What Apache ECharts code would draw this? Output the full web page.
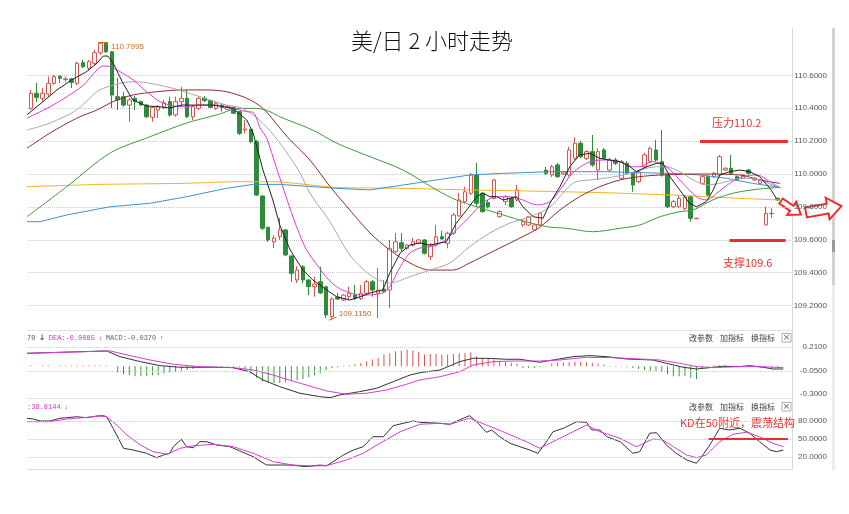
<!DOCTYPE html>
<html><head><meta charset="utf-8">
<script src="https://cdn.jsdelivr.net/npm/echarts@6/dist/echarts.min.js"></script>
<style>html,body{margin:0;padding:0;background:#fff}#c{width:849px;height:514px}</style>
</head><body><div id="c"></div>
<script>
const categories = Array.from({length:132},(_,i)=>String(i));
// [open, close, low, high]
const candles = [
[110.399,110.491,110.389,110.511],[110.491,110.466,110.438,110.553],[110.460,110.491,110.440,110.523],[110.486,110.551,110.470,110.592],
[110.551,110.592,110.541,110.602],[110.592,110.582,110.553,110.602],[110.574,110.578,110.561,110.592],[110.578,110.557,110.523,110.584],
[110.551,110.673,110.541,110.683],[110.677,110.652,110.643,110.693],[110.643,110.683,110.632,110.693],[110.673,110.737,110.663,110.754],
[110.737,110.795,110.723,110.797],[110.795,110.743,110.735,110.7995],[110.743,110.480,110.401,110.745],[110.470,110.450,110.389,110.584],
[110.470,110.419,110.409,110.500],[110.419,110.450,110.318,110.462],[110.460,110.440,110.389,110.474],[110.440,110.419,110.413,110.446],
[110.419,110.348,110.340,110.426],[110.345,110.405,110.318,110.413],[110.389,110.409,110.340,110.419],[110.405,110.433,110.395,110.450],
[110.440,110.359,110.348,110.470],[110.359,110.440,110.348,110.470],[110.440,110.460,110.409,110.531],[110.460,110.348,110.339,110.511],
[110.348,110.409,110.328,110.419],[110.399,110.460,110.389,110.470],[110.460,110.446,110.438,110.474],[110.446,110.405,110.401,110.450],
[110.399,110.430,110.389,110.440],[110.419,110.405,110.379,110.426],[110.393,110.413,110.389,110.419],[110.405,110.369,110.365,110.409],
[110.379,110.247,110.237,110.383],[110.267,110.274,110.247,110.328],[110.272,110.196,110.188,110.275],[110.196,109.872,109.866,110.207],
[109.866,109.670,109.660,109.870],[109.676,109.599,109.587,109.680],[109.588,109.611,109.550,109.629],[109.619,109.660,109.599,109.733],
[109.660,109.508,109.500,109.665],[109.502,109.396,109.345,109.505],[109.356,109.416,109.337,109.441],[109.436,109.356,109.337,109.447],
[109.356,109.315,109.264,109.360],[109.315,109.331,109.254,109.376],[109.345,109.277,109.270,109.436],[109.315,109.143,109.125,109.320],
[109.133,109.240,109.115,109.250],[109.252,109.240,109.234,109.277],[109.234,109.264,109.228,109.270],[109.254,109.275,109.234,109.315],
[109.264,109.244,109.234,109.325],[109.244,109.275,109.234,109.325],[109.275,109.345,109.264,109.356],[109.345,109.295,109.254,109.356],
[109.275,109.295,109.125,109.429],[109.301,109.285,109.277,109.356],[109.295,109.548,109.185,109.599],[109.528,109.588,109.520,109.641],
[109.582,109.548,109.528,109.641],[109.548,109.568,109.540,109.575],[109.568,109.588,109.558,109.611],[109.579,109.599,109.573,109.605],
[109.599,109.518,109.510,109.605],[109.497,109.568,109.477,109.581],[109.568,109.619,109.558,109.690],[109.619,109.605,109.599,109.655],
[109.579,109.640,109.548,109.649],[109.640,109.751,109.629,109.763],[109.745,109.842,109.740,109.884],[109.832,109.892,109.822,109.923],
[109.883,109.994,109.872,110.006],[109.994,109.822,109.801,110.067],[109.883,109.771,109.765,109.890],[109.826,109.801,109.791,109.842],
[109.852,109.964,109.845,109.970],[109.740,109.771,109.735,109.780],[109.832,109.862,109.812,109.872],[109.852,109.801,109.795,109.858],
[109.842,109.903,109.832,109.933],[109.690,109.710,109.680,109.726],[109.690,109.740,109.684,109.745],[109.660,109.690,109.655,109.695],
[109.690,109.763,109.684,109.768],[110.024,110.004,109.994,110.044],[109.994,110.044,109.982,110.055],[110.055,109.984,109.976,110.067],
[110.000,110.012,109.994,110.018],[109.994,110.146,109.984,110.166],[110.095,110.187,110.085,110.223],[110.187,110.105,110.097,110.201],
[110.095,110.136,110.085,110.146],[110.136,110.055,110.044,110.237],[110.024,110.136,109.964,110.156],[110.146,110.095,110.085,110.158],
[110.024,110.085,110.012,110.097],[110.085,110.065,110.055,110.097],[109.974,110.075,109.964,110.085],[110.065,110.004,109.994,110.079],
[110.004,109.933,109.892,110.012],[109.953,110.014,109.945,110.024],[110.044,110.116,110.036,110.128],[110.075,110.156,110.067,110.166],
[110.146,110.085,110.075,110.207],[110.075,109.994,109.984,110.267],[109.994,109.801,109.793,110.006],[109.801,109.832,109.793,109.842],
[109.801,109.852,109.793,109.866],[109.791,109.862,109.781,109.872],[109.862,109.731,109.710,109.872],[109.728,109.731,109.726,109.735],
[109.943,109.984,109.933,109.994],[109.984,109.872,109.866,109.994],[109.984,110.004,109.976,110.014],[109.994,110.105,109.984,110.116],
[110.024,110.035,110.018,110.040],[110.035,110.004,109.994,110.116],[109.984,109.964,109.958,109.990],[109.974,109.994,109.968,110.000],
[110.024,110.004,109.998,110.030],[109.964,109.974,109.958,109.980],[109.943,109.964,109.938,109.970],[109.690,109.761,109.688,109.801],
[109.759,109.761,109.733,109.793],[109.852,109.842,109.838,109.856]
];
const ma5 = [[-0.7,110.359],[2.1,110.440],[4.5,110.511],[7.0,110.571],[9.6,110.622],[11.4,110.673],[12.5,110.717],[13.3,110.717],[14.2,110.675],[15.9,110.553],[17.6,110.450],[20.0,110.413],[22.3,110.409],[24.0,110.401],[26.0,110.419],[28.6,110.419],[31.5,110.419],[34.9,110.399],[37.3,110.328],[38.4,110.249],[40.1,110.024],[41.8,109.842],[43.0,109.690],[44.8,109.538],[47.0,109.416],[48.7,109.356],[51.1,109.295],[52.8,109.254],[55.1,109.234],[56.8,109.252],[58.6,109.277],[60.8,109.295],[62.0,109.398],[63.8,109.520],[65.5,109.568],[67.2,109.581],[68.9,109.568],[70.7,109.581],[71.8,109.588],[73.5,109.702],[75.3,109.781],[77.0,109.862],[78.1,109.884],[79.3,109.862],[80.5,109.862],[81.6,109.842],[83.9,109.862],[85.0,109.801],[86.8,109.740],[88.5,109.731],[89.7,109.824],[91.4,109.923],[93.1,110.044],[94.8,110.116],[96.6,110.126],[98.3,110.095],[100.0,110.085],[101.8,110.075],[103.5,110.044],[104.6,110.014],[106.4,110.044],[108.1,110.065],[109.2,110.065],[110.4,109.984],[112.1,109.903],[113.8,109.822],[115.0,109.801],[116.7,109.832],[117.9,109.903],[119.0,109.994],[120.7,110.014],[122.5,110.024],[124.2,110.014],[125.9,109.984],[127.7,109.913],[128.8,109.852]];
const ma10 = [[-0.7,110.339],[3.3,110.409],[6.2,110.470],[9.1,110.541],[11.4,110.632],[12.5,110.657],[13.7,110.652],[15.4,110.622],[17.7,110.571],[20.0,110.500],[22.3,110.440],[24.6,110.413],[26.9,110.409],[29.2,110.419],[32.1,110.419],[34.9,110.399],[37.3,110.379],[38.4,110.375],[39.6,110.280],[40.7,110.220],[42.4,110.040],[44.2,109.850],[45.9,109.680],[47.6,109.540],[49.6,109.440],[51.1,109.370],[52.8,109.315],[55.1,109.277],[57.4,109.264],[60.8,109.277],[62.0,109.315],[63.8,109.436],[65.5,109.520],[67.2,109.550],[68.9,109.558],[71.2,109.588],[73.5,109.660],[75.8,109.740],[78.1,109.824],[80.5,109.862],[82.8,109.862],[85.0,109.842],[87.4,109.812],[89.7,109.832],[91.4,109.903],[93.6,110.006],[96.6,110.075],[99.5,110.085],[101.8,110.075],[104.0,110.044],[105.2,110.044],[107.4,110.075],[109.8,110.044],[112.1,109.964],[115.0,109.862],[116.7,109.842],[118.5,109.883],[120.7,109.943],[123.0,109.984],[125.4,109.994],[127.7,109.953],[129.4,109.915]];
const ma20 = [[-0.7,110.267],[3.3,110.310],[7.9,110.389],[11.4,110.500],[13.7,110.535],[17.6,110.561],[20.0,110.555],[24.5,110.521],[29.2,110.470],[33.8,110.419],[36.1,110.405],[38.4,110.359],[40.7,110.286],[43.5,110.166],[46.5,110.006],[48.2,109.884],[51.7,109.708],[55.1,109.508],[58.6,109.386],[62.0,109.337],[65.5,109.376],[68.9,109.416],[72.4,109.459],[75.8,109.558],[79.3,109.641],[82.8,109.702],[86.2,109.740],[89.7,109.800],[93.7,109.945],[96.6,109.964],[99.5,109.976],[102.3,109.994],[105.2,110.024],[108.1,110.044],[109.8,110.044],[112.1,110.014],[114.4,109.964],[116.7,109.933],[119.0,109.943],[121.3,109.964],[123.6,109.974],[125.9,109.964],[128.2,109.933],[129.7,109.915]];
const ma30 = [[-0.7,110.156],[3.3,110.249],[7.9,110.339],[11.4,110.389],[14.2,110.440],[17.6,110.480],[21.7,110.500],[26.3,110.511],[30.4,110.511],[33.8,110.500],[37.3,110.460],[40.1,110.399],[43.0,110.280],[44.8,110.207],[48.2,110.085],[51.7,109.923],[55.1,109.781],[58.6,109.641],[62.0,109.538],[65.5,109.459],[68.9,109.416],[72.9,109.416],[75.8,109.459],[79.3,109.520],[82.8,109.581],[86.2,109.641],[88.0,109.678],[91.4,109.781],[94.8,109.862],[98.3,109.923],[101.8,109.964],[105.2,109.984],[108.7,109.994],[115.6,110.000],[122.5,109.994],[125.9,109.964],[129.4,109.943]];
const ma60 = [[-0.7,109.740],[6.2,109.923],[13.7,110.128],[20.6,110.227],[26.9,110.310],[32.1,110.359],[36.1,110.399],[39.0,110.399],[41.3,110.379],[43.0,110.348],[48.7,110.267],[52.8,110.188],[58.6,110.105],[64.3,110.024],[70.1,109.903],[73.5,109.842],[77.0,109.801],[80.5,109.763],[84.5,109.720],[89.1,109.680],[92.5,109.670],[97.1,109.649],[101.8,109.670],[105.2,109.690],[108.7,109.740],[112.1,109.771],[114.4,109.781],[117.8,109.842],[121.3,109.883],[125.4,109.907],[129.4,109.919]];
const ma120 = [[-0.7,109.710],[1.6,109.710],[6.2,109.751],[13.7,109.801],[20.6,109.822],[26.9,109.862],[33.8,109.913],[38.4,109.937],[43.0,109.937],[52.8,109.913],[58.6,109.903],[64.3,109.933],[70.1,109.964],[75.8,109.994],[81.5,110.004],[89.7,110.014],[99.5,110.014],[105.2,110.008],[110.9,110.004],[115.6,109.994],[120.2,109.974],[124.7,109.943],[129.4,109.919]];
const ma250 = [[-0.7,109.923],[11.9,109.937],[26.3,109.943],[34.9,109.953],[43.0,109.953],[52.8,109.917],[64.3,109.913],[75.8,109.903],[89.7,109.894],[99.5,109.886],[110.9,109.872],[122.5,109.852],[129.4,109.842]];
const macdHist = [0.008,0,0.008,0.008,0,0.008,0.008,0.008,0.008,0.008,0.008,0.008,0.008,0.008,
0,
-0.07,-0.09,-0.10,-0.11,-0.11,-0.11,-0.10,-0.10,-0.08,-0.07,-0.06,-0.05,-0.04,-0.03,
-0.01,-0.008,-0.008,-0.008,-0.01,-0.008,-0.008,-0.01,
-0.03,-0.08,-0.13,-0.165,-0.18,-0.185,-0.185,-0.18,-0.165,-0.155,-0.14,-0.12,-0.10,-0.08,-0.045,
-0.02,-0.01,0.005,0.01,
0.02,0.035,0.055,0.075,0.09,0.13,0.14,0.165,0.175,0.185,0.175,
0.16,0.13,0.135,0.135,0.13,0.13,0.135,0.14,0.145,0.155,
0.11,0.09,0.08,0.075,0.06,0.05,0.04,0.03,
-0.02,-0.02,-0.02,-0.01,0.005,
0.03,0.04,0.04,0.045,0.05,0.05,0.045,0.04,0.03,0.02,
0.005,-0.005,-0.005,-0.01,
-0.02,-0.03,-0.04,-0.05,-0.055,-0.06,-0.09,-0.11,-0.11,-0.11,-0.13,-0.14,
-0.02,-0.02,0.01,0.01,0.01,0.005,0.005,0.005,0.01,0.005,-0.01,-0.02,-0.02,-0.02];
const dif = [[-0.7,0.143],[13.1,0.169],[15.4,0.106],[18.9,0.051],[22.3,0.007],[25.8,-0.011],[31.5,-0.011],[34.9,-0.015],[37.8,-0.060],[40.1,-0.151],[43.0,-0.225],[46.5,-0.298],[49.9,-0.335],[51.7,-0.346],[53.4,-0.316],[56.8,-0.280],[59.7,-0.243],[62.6,-0.170],[65.5,-0.096],[67.2,-0.071],[70.7,-0.041],[74.1,0.051],[76.4,0.088],[78.7,0.088],[82.2,0.077],[84.5,0.077],[87.9,0.044],[90.2,0.069],[93.7,0.106],[96.6,0.117],[99.5,0.106],[102.9,0.080],[107.5,0.069],[109.8,0.033],[112.7,-0.011],[115.0,-0.030],[117.3,-0.015],[119.6,0.000],[122.5,-0.004],[124.2,0.007],[126.5,-0.011],[128.2,-0.030],[130.0,-0.030]];
const dea = [[-0.7,0.143],[13.7,0.169],[16.6,0.125],[20.6,0.069],[24.6,0.022],[29.2,-0.004],[34.9,-0.015],[38.4,-0.041],[41.8,-0.096],[46.5,-0.187],[51.1,-0.272],[54.5,-0.309],[58.0,-0.298],[61.5,-0.261],[64.9,-0.198],[67.2,-0.151],[70.7,-0.115],[74.1,-0.060],[76.4,0.014],[79.9,0.051],[83.3,0.058],[87.9,0.058],[91.4,0.069],[96.0,0.099],[100.6,0.095],[105.2,0.080],[108.7,0.069],[112.1,0.033],[115.0,-0.004],[117.9,-0.015],[122.5,-0.004],[125.9,-0.004],[130.0,-0.015]];
const kLine = [[-0.7,84.2],[0.4,83.0],[1.6,79.7],[3.3,79.7],[5.0,84.2],[6.2,85.2],[7.9,86.8],[9.6,85.2],[11.4,88.0],[12.5,88.5],[13.1,86.8],[14.2,67.5],[16.0,34.2],[17.7,31.3],[20.0,25.8],[21.7,18.5],[22.9,23.0],[24.0,25.8],[24.6,36.8],[26.0,49.2],[26.9,36.8],[28.1,35.2],[29.2,45.2],[30.4,45.2],[32.1,39.7],[34.4,36.8],[36.1,29.7],[38.4,20.2],[40.7,6.3],[42.5,6.3],[44.8,6.3],[47.6,3.5],[49.9,6.3],[51.1,5.2],[52.2,11.8],[54.0,23.0],[55.7,31.3],[57.4,36.8],[59.1,53.5],[60.9,53.5],[62.6,71.8],[64.3,75.8],[66.1,79.7],[67.2,77.5],[70.7,75.8],[72.4,74.2],[74.7,84.2],[75.8,88.5],[77.3,75.8],[78.7,60.8],[79.6,64.7],[81.0,53.5],[82.8,42.5],[84.5,36.8],[86.2,31.3],[87.6,25.8],[89.1,45.2],[90.2,61.8],[92.0,67.5],[94.3,78.5],[96.0,77.5],[96.9,64.7],[98.3,64.7],[99.5,53.5],[101.8,45.2],[104.0,25.8],[105.2,28.5],[106.9,59.2],[108.1,60.2],[109.8,39.7],[111.5,25.8],[113.3,14.7],[115.0,9.2],[115.9,20.2],[117.3,39.7],[119.0,67.5],[120.7,64.7],[122.5,67.5],[124.2,59.2],[125.9,45.2],[127.7,31.3],[128.8,28.5],[130.0,31.3]];
const dLine = [[-0.7,78.5],[3.3,78.5],[6.2,83.0],[9.1,85.2],[11.9,88.0],[13.1,86.8],[14.8,73.0],[16.6,56.3],[18.9,39.7],[21.1,28.5],[23.5,24.2],[25.8,34.2],[28.1,38.5],[31.5,40.8],[35.0,36.8],[38.4,25.8],[41.9,11.8],[45.3,6.3],[48.8,4.7],[51.1,5.2],[54.5,14.7],[57.4,25.8],[60.3,42.5],[63.8,61.8],[67.2,74.2],[70.7,75.8],[72.4,74.2],[75.8,84.2],[78.7,73.0],[82.2,59.2],[85.6,45.2],[87.9,34.2],[90.2,45.2],[93.7,61.8],[96.0,73.0],[98.3,61.8],[101.8,50.8],[104.6,36.8],[107.5,49.7],[109.2,48.0],[111.0,36.8],[113.3,23.0],[115.0,18.5],[116.7,23.0],[119.0,45.2],[121.3,57.5],[123.6,60.8],[125.9,53.5],[128.2,42.5],[130.0,36.8]];
const macdLevels = [0.21, -0.05, -0.30];
const kdLevels = [80, 50, 20];
const resistance = 110.2, support = 109.6, kdMid = 50;
const highMark = {idx:13, value:110.7995}, lowMark = {idx:52, value:109.115};

const RED = '#e8302f', UP = '#d9534f', DOWN = '#2e8b3a';
const lblFont = 'Liberation Sans';
const lineSer = (data, color, xi, yi, extra) => Object.assign({
  type:'line', xAxisIndex:xi, yAxisIndex:yi, data, symbol:'none', silent:true,
  lineStyle:{width:1,color}, z:3, animation:false}, extra||{});
const labelWidth = s => s.split('').reduce((a,c)=>a+(c==='.'?2.22:(c==='-'?2.66:4.45)),0);

const chart = echarts.init(document.getElementById('c'));
const grids = [
  {left:28, right:57, top:42.4, height:296.1},
  {left:28, right:57, top:330, height:68},
  {left:28, right:57, top:398, height:72}
];
const hiddenVal = gi => ({type:'value', gridIndex:gi, min:-0.5, max:131.5, show:false});
const option = {
  animation:false,
  backgroundColor:'#fff',
  grid: grids,
  xAxis: [
    {type:'category', gridIndex:0, data:categories, show:false, boundaryGap:true},
    hiddenVal(0),
    {type:'category', gridIndex:1, data:categories, show:false, boundaryGap:true},
    hiddenVal(1),
    {type:'category', gridIndex:2, data:categories, boundaryGap:true,
      axisLine:{lineStyle:{color:'#dcdcdc'}}, axisTick:{interval:6, length:3, lineStyle:{color:'#cfcfcf'}},
      axisLabel:{show:false}},
    hiddenVal(2)
  ],
  yAxis: [
    {type:'value', gridIndex:0, position:'right', min:109.0, max:110.8, interval:0.2,
      axisLine:{show:false}, axisTick:{show:false},
      axisLabel:{formatter:v=>v.toFixed(4), align:'right', margin:35, fontSize:8, color:'#555', fontFamily:lblFont,
        showMinLabel:false, showMaxLabel:false},
      splitLine:{show:true, showMinLine:false, showMaxLine:false, lineStyle:{type:'dotted', color:'#c8c8c8'}}},
    {type:'value', gridIndex:1, min:-0.35, max:0.40, show:false},
    {type:'value', gridIndex:2, min:-2, max:118, show:false}
  ],
  series: [
    {type:'candlestick', xAxisIndex:0, yAxisIndex:0, data:candles, barWidth:4, z:2,
      itemStyle:{color:'#fff', color0:DOWN, borderColor:UP, borderColor0:DOWN, borderWidth:1},
      markPoint:{silent:true, animation:false, data:[
        {coord:[highMark.idx, highMark.value], symbol:'rect', symbolSize:[10,1], symbolOffset:[-3,0],
          itemStyle:{color:'#d2691e'},
          label:{show:true, position:'right', distance:3, offset:[0,4], formatter:highMark.value.toFixed(4),
            color:'#d2691e', fontSize:8, fontFamily:lblFont}},
        {coord:[lowMark.idx, lowMark.value], symbol:'rect', symbolSize:[8,1], symbolRotate:25, symbolOffset:[1,-1],
          itemStyle:{color:'#d2691e'},
          label:{show:true, position:'right', distance:2, offset:[0,-5], formatter:lowMark.value.toFixed(4),
            color:'#d2691e', fontSize:8, fontFamily:lblFont}}
      ]}},
    lineSer(ma250, '#f0b42c', 1, 0),
    lineSer(ma120, '#3f93c9', 1, 0),
    lineSer(ma60, '#3e9a3e', 1, 0, {smooth:0.3}),
    lineSer(ma30, '#8c2f2f', 1, 0, {smooth:0.3}),
    lineSer(ma20, '#a8a8a8', 1, 0, {smooth:0.3}),
    lineSer(ma10, '#dc3cdc', 1, 0, {smooth:0.3}),
    lineSer(ma5, '#222', 1, 0, {
      markLine:{silent:true, symbol:['none','none'], animation:false,
        lineStyle:{color:RED, width:3, type:'solid'}, label:{show:false},
        data:[
          [{coord:[115.6, resistance]},{coord:[130.8, resistance]}],
          [{coord:[120.7, support]},{coord:[130.4, support]}]
        ]}}),
    {type:'bar', xAxisIndex:2, yAxisIndex:1, barWidth:1, silent:true,
      data: macdHist.map(v=>({value:v, itemStyle:{color: v>=0 ? UP : '#3f9a3f'}}))},
    lineSer(dif, '#333', 3, 1, {
      markLine:{silent:true, symbol:['none','none'], animation:false,
        lineStyle:{type:'dotted', color:'#c8c8c8', width:1},
        label:{position:'end', color:'#555', fontSize:8, fontFamily:lblFont},
        data: macdLevels.map((v,i)=>({yAxis:v,
          lineStyle: i===2 ? {color:'rgba(255,255,255,0)'} : undefined,
          label:{show:true, color:'#555', formatter:v.toFixed(4), distance: 35 - labelWidth(v.toFixed(4))}}))}}),
    lineSer(dea, '#d63cd6', 3, 1),
    lineSer(kLine, '#333', 5, 2, {
      markLine:{silent:true, symbol:['none','none'], animation:false,
        lineStyle:{type:'dotted', color:'#c8c8c8', width:1},
        label:{position:'end', color:'#555', fontSize:8, fontFamily:lblFont},
        data: kdLevels.map(v=>({yAxis:v, label:{formatter:v.toFixed(4), distance: 35 - labelWidth(v.toFixed(4))}}))}}),
    lineSer(dLine, '#d63cd6', 5, 2, {
      markLine:{silent:true, symbol:['none','none'], animation:false,
        lineStyle:{color:RED, width:2, type:'solid'}, label:{show:false},
        data:[[{coord:[117.1, kdMid]},{coord:[130.8, kdMid]}]]}})
  ],
  graphic: []
};

const G = option.graphic;
const cjk = '"Noto Sans CJK SC"';
// frame
G.push({type:'line', shape:{x1:792.5,y1:28,x2:792.5,y2:470}, style:{stroke:'#d8d8d8', lineWidth:1}, silent:true});
G.push({type:'line', shape:{x1:27,y1:330.5,x2:792,y2:330.5}, style:{stroke:'#e2e2e2', lineWidth:1}, silent:true});
G.push({type:'line', shape:{x1:27,y1:398.5,x2:792,y2:398.5}, style:{stroke:'#e2e2e2', lineWidth:1}, silent:true});
G.push({type:'rect', shape:{x:832,y:28,width:3,height:442}, style:{fill:'#ececec'}, silent:true});
G.push({type:'rect', shape:{x:832,y:28,width:3,height:257}, style:{fill:'#d2d2d2'}, silent:true});
G.push({type:'rect', shape:{x:832,y:240,width:3,height:12}, style:{fill:'#9a9a9a'}, silent:true});
// title
G.push({type:'text', x:432, y:41, style:{text:'美/日 2 小时走势', fontSize:22, fontWeight:300, fontFamily:cjk, fill:'#111', align:'center', verticalAlign:'middle'}, silent:true});
// MACD header
G.push({type:'text', x:27, y:338, silent:true, style:{
  text:'{a|70} {b|↓} {c|DEA:-0.0085} {c|↓} {e|MACD:-0.0370} {e|↑}', verticalAlign:'middle',
  rich:{a:{fill:'#555',fontSize:7,fontFamily:'Liberation Mono'}, b:{fill:'#222',fontSize:8,fontFamily:'DejaVu Sans'},
        c:{fill:'#d030d0',fontSize:7,fontFamily:'Liberation Mono'}, e:{fill:'#666',fontSize:7,fontFamily:'Liberation Mono'}}}});
G.push({type:'text', x:27, y:407, silent:true, style:{
  text:'{c|:38.8144} {c|↓}', verticalAlign:'middle',
  rich:{c:{fill:'#d030d0',fontSize:7,fontFamily:'Liberation Mono'}}}});
// panel buttons
[338, 407].forEach(y=>{
  [['改参数',689],['加指标',720],['换指标',751]].forEach(([t,x])=>{
    G.push({type:'text', x, y, silent:true, style:{text:t, fontSize:8, fontFamily:cjk, fill:'#444', verticalAlign:'middle'}});
  });
  G.push({type:'rect', shape:{x:782,y:y-4.5,width:9,height:8.5}, style:{fill:'#fff', stroke:'#999', lineWidth:0.8}, silent:true});
  G.push({type:'text', x:786.5, y:y, silent:true, style:{text:'×', fontSize:9, fontFamily:'DejaVu Sans', fill:'#666', align:'center', verticalAlign:'middle'}});
});
// annotations
G.push({type:'text', x:712, y:123, silent:true, style:{text:'压力110.2', fontSize:11, fontFamily:cjk, fill:RED, verticalAlign:'middle'}});
G.push({type:'text', x:723, y:262.5, silent:true, style:{text:'支撑109.6', fontSize:11, fontFamily:cjk, fill:RED, verticalAlign:'middle'}});
G.push({type:'text', x:680, y:423, silent:true, style:{text:'KD在50附近，震荡结构', fontSize:11, fontFamily:cjk, fill:RED, verticalAlign:'middle'}});
// arrows
G.push({type:'polygon', x:781, y:201, rotation:-0.6, silent:true,
  shape:{points:[[0,-3],[13,-3],[13,-8],[24,0],[13,8],[13,3],[0,3]]},
  style:{fill:'#fff', stroke:RED, lineWidth:2}});
G.push({type:'polygon', x:806, y:212.5, rotation:0.18, silent:true,
  shape:{points:[[0,-5],[22,-5],[22,-11],[36,0],[22,11],[22,5],[0,5]]},
  style:{fill:'#fff', stroke:RED, lineWidth:2}});

chart.setOption(option);
</script>
</body></html>
